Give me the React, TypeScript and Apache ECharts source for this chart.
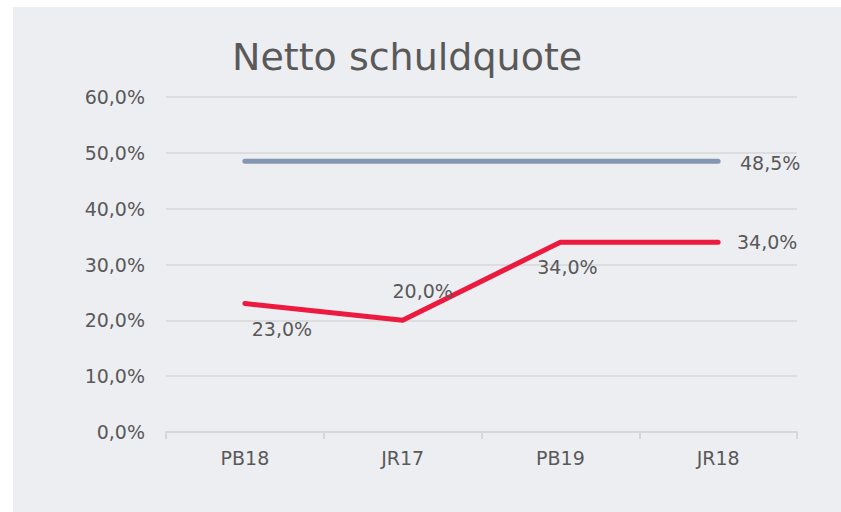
import React, { useEffect, useRef } from "react";
import * as echarts from "echarts";

const categories = ["PB18", "JR17", "PB19", "JR18"];
const grayValues = [48.5, 48.5, 48.5, 48.5];
const redValues = [23.0, 20.0, 34.0, 34.0];
const yTicks = { min: 0, max: 60, interval: 10 };
const titleText = "Netto schuldquote";

const fmt = (v: number) => v.toFixed(1).replace(".", ",") + "%";

export default function App() {
  const ref = useRef<HTMLDivElement>(null);
  useEffect(() => {
    if (!ref.current) return;
    const chart = echarts.init(ref.current, null, { renderer: "svg" });
    const font = "DejaVu Sans";
    const textColor = "#595959";
    const redOffsets: [number, number][] = [
      [37, 25],
      [20, -29],
      [7, 25],
      [49, 0],
    ];
    chart.setOption({
      animation: false,
      backgroundColor: "#ffffff",
      graphic: [
        {
          type: "rect",
          z: -10,
          silent: true,
          shape: { x: 13, y: 7, width: 828, height: 505 },
          style: { fill: "#edeef2" },
        },
      ],
      title: {
        text: titleText,
        left: 227,
        top: 33,
        textStyle: {
          fontFamily: font,
          fontSize: 38,
          fontWeight: "normal",
          color: textColor,
        },
      },
      grid: { left: 166, right: 44, top: 97, bottom: 80 },
      xAxis: {
        type: "category",
        data: categories,
        boundaryGap: true,
        axisLine: { lineStyle: { color: "#d6d7d9", width: 2 } },
        axisTick: { show: true, length: 7, lineStyle: { color: "#d6d7d9", width: 2 } },
        axisLabel: { margin: 16, fontFamily: font, fontSize: 19, color: textColor },
      },
      yAxis: {
        type: "value",
        min: yTicks.min,
        max: yTicks.max,
        interval: yTicks.interval,
        axisLine: { show: false },
        axisTick: { show: false },
        splitLine: { lineStyle: { color: "#d6d7d9", width: 1.5 } },
        axisLabel: {
          margin: 21,
          fontFamily: font,
          fontSize: 19,
          color: textColor,
          formatter: (v: number) => fmt(v),
        },
      },
      series: [
        {
          type: "line",
          data: grayValues.map((v, i) => ({
            value: v,
            label: {
              show: i === grayValues.length - 1,
              position: "inside",
              offset: [52, 2],
            },
          })),
          symbol: "circle",
          symbolSize: 1,
          itemStyle: { color: "transparent" },
          lineStyle: { color: "#8497b0", width: 5, cap: "round" },
          label: {
            fontFamily: font,
            fontSize: 19,
            color: textColor,
            formatter: (p: any) => fmt(p.value),
          },
        },
        {
          type: "line",
          data: redValues.map((v, i) => ({
            value: v,
            label: { show: true, position: "inside", offset: redOffsets[i] },
          })),
          symbol: "circle",
          symbolSize: 1,
          itemStyle: { color: "transparent" },
          lineStyle: { color: "#ec1a3e", width: 5, cap: "round", join: "round" },
          label: {
            fontFamily: font,
            fontSize: 19,
            color: textColor,
            formatter: (p: any) => fmt(p.value),
          },
        },
      ],
    });
    return () => chart.dispose();
  }, []);
  return (
    <div
      ref={ref}
      style={{ position: "fixed", left: 0, top: 0, width: 841, height: 512 }}
    />
  );
}
